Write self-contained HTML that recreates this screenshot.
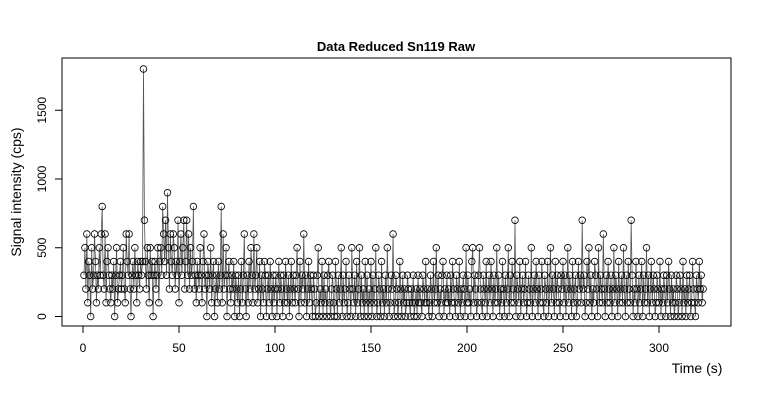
<!DOCTYPE html>
<html><head><meta charset="utf-8"><style>
html,body{margin:0;padding:0;background:#fff}
svg{display:block;font-family:"Liberation Sans",Arial,sans-serif}
</style></head><body>
<svg id="chart" width="760" height="400" viewBox="0 0 760 400" xmlns="http://www.w3.org/2000/svg">
<rect x="0" y="0" width="760" height="400" fill="#fff"/>
<text x="396" y="51" text-anchor="middle" font-size="13" font-weight="bold">Data Reduced Sn119 Raw</text>
<rect x="62" y="58" width="669" height="268" fill="none" stroke="#000" stroke-width="1"/>
<text x="697" y="373" text-anchor="middle" font-size="14">Time (s)</text>
<text transform="translate(21,192) rotate(-90)" text-anchor="middle" font-size="14">Signal intensity (cps)</text>
<g id="axes"></g>
<g id="marks"></g>
</svg>
<script>
const xTicks=[0,50,100,150,200,250,300];
const yTicks=[0,500,1000,1500];
const intensity=[
300,500,200,600,100,400,300,0,500,200,300,600,400,100,300,200,500,300,600,800,
300,200,600,100,400,500,300,200,100,300,200,400,0,300,500,100,200,300,400,200,
300,500,200,100,600,400,300,600,200,0,300,400,200,500,300,100,400,300,200,400,
300,400,1800,700,400,200,500,300,100,500,300,400,0,300,400,200,300,500,100,400,
500,300,800,600,400,700,300,900,500,200,600,400,300,600,500,200,400,300,700,100,
400,600,300,500,700,200,400,700,300,600,200,500,300,400,800,200,300,100,400,300,
200,500,300,100,400,600,200,300,0,400,300,200,500,100,300,400,0,200,300,100,
400,200,300,800,100,600,200,300,500,0,300,400,200,100,300,200,400,0,300,200,
100,300,0,200,400,100,300,600,200,0,300,100,400,200,500,300,100,600,200,300,
500,100,200,400,0,300,200,100,400,300,0,200,300,100,400,200,0,300,100,200,
300,0,200,400,100,300,200,0,300,100,400,200,100,300,0,200,400,100,300,200,
100,300,500,200,0,400,100,300,200,600,100,300,0,200,400,100,300,200,0,300,
200,0,100,300,500,0,200,100,400,0,300,100,200,0,300,400,100,0,200,300,
100,0,400,200,0,300,100,200,500,0,300,100,200,400,0,100,300,200,0,500,
200,100,300,0,400,100,200,500,0,300,100,200,0,400,100,300,0,200,100,400,
0,300,100,200,500,0,100,300,200,0,400,100,200,0,300,100,500,200,0,100,
300,200,600,0,100,300,200,0,100,400,200,0,300,100,200,0,100,300,200,100,
0,200,100,300,0,100,200,0,300,100,200,100,0,300,200,100,400,100,200,0,
100,300,200,0,400,100,200,500,100,300,0,200,100,300,400,0,200,100,300,100,
200,0,300,100,400,200,100,0,300,200,100,400,0,200,100,300,200,0,500,100,
300,100,200,0,400,500,100,300,200,0,100,300,500,200,100,0,300,200,100,400,
0,200,300,100,400,200,0,300,100,200,500,100,300,0,200,100,400,200,0,300,
100,200,500,0,300,100,400,200,100,700,0,300,200,100,400,0,200,300,100,200,
400,0,100,300,200,100,500,0,200,300,100,400,200,0,300,100,200,400,100,0,
300,200,100,400,0,200,500,100,300,200,0,400,100,300,200,100,0,300,200,400,
100,300,0,200,500,100,300,200,0,400,100,200,300,0,100,400,200,300,100,700,
200,300,0,100,400,200,500,100,300,0,200,100,400,300,200,0,500,100,300,200,
100,600,200,0,300,100,400,200,100,300,0,200,500,100,300,200,0,400,100,200,
300,100,500,200,0,300,100,400,200,100,700,300,0,200,100,400,200,0,300,100,
200,400,0,300,100,200,500,100,300,0,200,400,100,300,200,0,100,300,200,100,
400,0,200,100,300,200,0,300,100,400,200,0,300,100,200,0,100,300,200,0,
100,300,200,0,400,100,200,0,300,100,200,300,0,100,400,200,100,0,300,200,
100,400,200,300,100,200
];
const timeStart=0.5, timeStep=0.5;
const xScale=t=>83+t*1.92;
const yScale=v=>316.5-v*0.1375;
const NS="http://www.w3.org/2000/svg";
const axes=document.getElementById('axes');
const marks=document.getElementById('marks');
function mk(tag,attrs,parent){const e=document.createElementNS(NS,tag);for(const k in attrs)e.setAttribute(k,attrs[k]);parent.appendChild(e);return e;}
const xl=mk('line',{x1:xScale(xTicks[0]),x2:xScale(xTicks[xTicks.length-1]),y1:326,y2:326,stroke:'#000'},axes);


xTicks.forEach(t=>{
  const l=mk('line',{x1:xScale(t),x2:xScale(t),y1:326,y2:333,stroke:'#000'},axes);
  
  
  const tx=mk('text',{x:xScale(t),y:352,'text-anchor':'middle','font-size':12},axes);
  tx.textContent=t;
  
  
});
const yl=mk('line',{x1:62,x2:62,y1:yScale(yTicks[0]),y2:yScale(yTicks[yTicks.length-1]),stroke:'#000'},axes);


yTicks.forEach(v=>{
  const l=mk('line',{x1:55,x2:62,y1:yScale(v),y2:yScale(v),stroke:'#000'},axes);
  
  
  const tx=mk('text',{transform:`translate(${46},${yScale(v)}) rotate(-90)`,'text-anchor':'middle','font-size':12},axes);
  tx.textContent=v;
  
  
});
const pts=intensity.map((v,i)=>[xScale(timeStart+i*timeStep),yScale(v)]);
const line=mk('polyline',{points:pts.map(p=>p[0].toFixed(2)+','+p[1].toFixed(2)).join(' '),fill:'none',stroke:'#555','stroke-width':0.8},marks);


pts.forEach(p=>{
  const c=mk('circle',{cx:p[0].toFixed(2),cy:p[1].toFixed(2),r:3.3,fill:'none',stroke:'#000','stroke-width':0.8},marks);
  
  
});
</script>
</body></html>
